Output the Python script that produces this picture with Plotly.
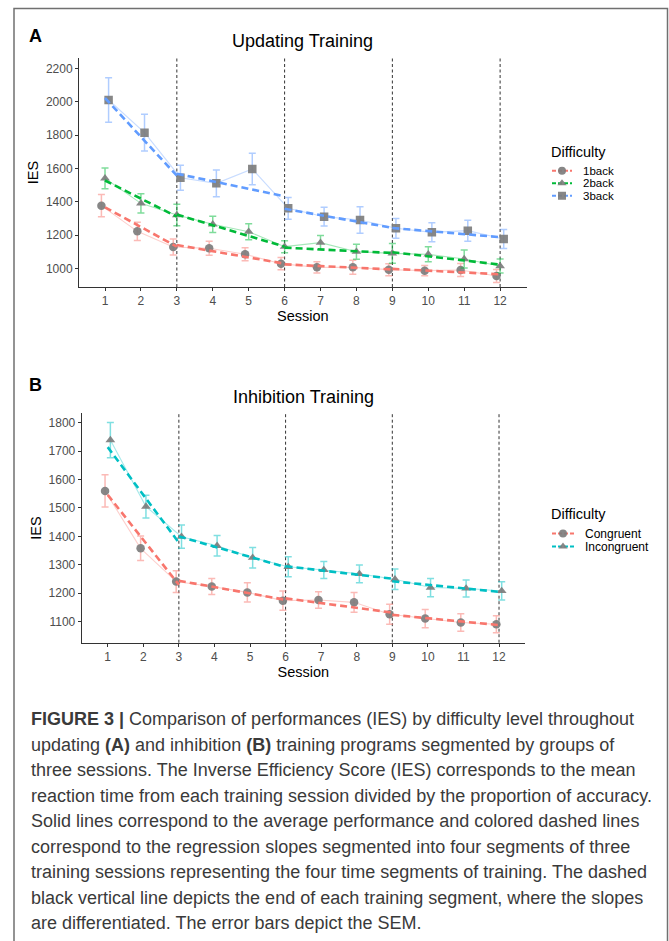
import plotly.graph_objects as go

W, H = 669, 941

# ---------------- data ----------------
sessions = list(range(1, 13))
segment_edges = [1, 3, 6, 9, 12]

# Panel A: Updating training
upd_names = ["1back", "2back", "3back"]
upd_1back = [1376, 1222, 1128, 1120, 1084, 1028, 1006, 1006, 992, 986, 990, 954]
upd_1back_sem = [67, 55, 48, 42, 39, 37, 34, 42, 36, 31, 39, 39]
upd_2back = [1540, 1390, 1320, 1264, 1220, 1130, 1154, 1100, 1090, 1084, 1056, 1014]
upd_2back_sem = [62, 58, 65, 49, 48, 36, 43, 45, 59, 45, 54, 42]
upd_3back = [2010, 1814, 1544, 1510, 1596, 1360, 1310, 1290, 1240, 1216, 1226, 1176]
upd_3back_sem = [134, 110, 75, 80, 94, 65, 56, 80, 59, 57, 63, 57]
# regression slope (start, end) per segment
upd_1back_fit = [(1366, 1130), (1140, 1028), (1024, 993), (997, 964)]
upd_2back_fit = [(1527, 1310), (1323, 1130), (1124, 1092), (1097, 1022)]
upd_3back_fit = [(2022, 1556), (1568, 1432), (1357, 1243), (1242, 1187)]
upd_yticks = [1000, 1200, 1400, 1600, 1800, 2000, 2200]

# Panel B: Inhibition training
inh_names = ["Congruent", "Incongruent"]
inh_congruent = [1560, 1358, 1241, 1224, 1203, 1174, 1176, 1168, 1126, 1111, 1097, 1091]
inh_congruent_sem = [57, 43, 38, 28, 34, 34, 29, 35, 35, 32, 31, 30]
inh_incongruent = [1739, 1505, 1399, 1367, 1325, 1293, 1282, 1268, 1249, 1220, 1217, 1208]
inh_incongruent_sem = [62, 40, 41, 36, 36, 35, 30, 31, 36, 32, 30, 32]
inh_congruent_fit = [(1546, 1230), (1244, 1177), (1182, 1132), (1124, 1088)]
inh_incongruent_fit = [(1714, 1378), (1400, 1292), (1295, 1251), (1242, 1205)]
inh_yticks = [1100, 1200, 1300, 1400, 1500, 1600, 1700, 1800]

caption_lines = [
    "<b>FIGURE 3 |</b> Comparison of performances (IES) by difficulty level throughout",
    "updating <b>(A)</b> and inhibition <b>(B)</b> training programs segmented by groups of",
    "three sessions. The Inverse Efficiency Score (IES) corresponds to the mean",
    "reaction time from each training session divided by the proportion of accuracy.",
    "Solid lines correspond to the average performance and colored dashed lines",
    "correspond to the regression slopes segmented into four segments of three",
    "training sessions representing the four time segments of training. The dashed",
    "black vertical line depicts the end of each training segment, where the slopes",
    "are differentiated. The error bars depict the SEM.",
]

# ---------------- styles ----------------
FONT = "Liberation Sans, Arial, sans-serif"
COLORS_A = ["#F8766D", "#00BA38", "#619CFF"]
COLORS_B = ["#F8766D", "#00BFC4"]
SYMBOLS_A = ["circle", "triangle-up", "square"]
SYMBOLS_B = ["circle", "triangle-up"]
DODGE_A = [-0.1, 0.0, 0.1]
DODGE_B = [-0.075, 0.075]
MARKER_GRAY = "rgba(125,125,125,0.92)"


def rgba(hexc, a):
    h = hexc.lstrip("#")
    return "rgba(%d,%d,%d,%s)" % (int(h[0:2], 16), int(h[2:4], 16), int(h[4:6], 16), a)


def px_x(p):
    return p / W


def px_y(p):
    return 1 - p / H


fig = go.Figure()


def add_panel(series, sems, fits, colors, symbols, dodges, xa, ya):
    for vals, sem, col, sym, dx in zip(series, sems, colors, symbols, dodges):
        xs = [s + dx for s in sessions]
        # average performance line (thin solid)
        fig.add_trace(go.Scatter(x=xs, y=vals, mode="lines", xaxis=xa, yaxis=ya,
                                 line=dict(color=rgba(col, 0.35), width=1.1),
                                 showlegend=False, hoverinfo="skip"))
        # error bars (SEM)
        fig.add_trace(go.Scatter(x=xs, y=vals, mode="markers", xaxis=xa, yaxis=ya,
                                 marker=dict(size=0.1, color="rgba(0,0,0,0)"),
                                 error_y=dict(type="data", array=sem, visible=True,
                                              color=rgba(col, 0.5), thickness=1.5, width=3.5),
                                 showlegend=False, hoverinfo="skip"))
        # points
        fig.add_trace(go.Scatter(x=xs, y=vals, mode="markers", xaxis=xa, yaxis=ya,
                                 marker=dict(symbol=sym, size=8.5, color=MARKER_GRAY, line=dict(width=0)),
                                 showlegend=False))
    # segmented regression slopes (dashed)
    for fit, col in zip(fits, colors):
        rx, ry = [], []
        for i, (a, b) in enumerate(fit):
            rx += [segment_edges[i], segment_edges[i + 1], None]
            ry += [a, b, None]
        fig.add_trace(go.Scatter(x=rx, y=ry, mode="lines", xaxis=xa, yaxis=ya,
                                 line=dict(color=col, width=2.6, dash="7px,4px"),
                                 showlegend=False, hoverinfo="skip"))


add_panel([upd_1back, upd_2back, upd_3back],
          [upd_1back_sem, upd_2back_sem, upd_3back_sem],
          [upd_1back_fit, upd_2back_fit, upd_3back_fit],
          COLORS_A, SYMBOLS_A, DODGE_A, "x", "y")
add_panel([inh_congruent, inh_incongruent],
          [inh_congruent_sem, inh_incongruent_sem],
          [inh_congruent_fit, inh_incongruent_fit],
          COLORS_B, SYMBOLS_B, DODGE_B, "x2", "y2")


# compact legends (ggplot-style key glyphs)
def add_legend(names, colors, symbols, xa, ya):
    for n, c, s in zip(names, colors, symbols):
        fig.add_trace(go.Scatter(x=[0, 1], y=[n, n], mode="lines", xaxis=xa, yaxis=ya,
                                 line=dict(color=c, width=2, dash="4px,2px"),
                                 showlegend=False, hoverinfo="skip"))
        fig.add_trace(go.Scatter(x=[0.5], y=[n], mode="markers", xaxis=xa, yaxis=ya,
                                 marker=dict(symbol=s, size=8, color=MARKER_GRAY),
                                 showlegend=False, hoverinfo="skip"))


add_legend(upd_names, COLORS_A, SYMBOLS_A, "x3", "y3")
add_legend(inh_names, COLORS_B, SYMBOLS_B, "x4", "y4")

axis_common = dict(showgrid=False, zeroline=False, showline=True, linecolor="#333333",
                   linewidth=1, ticks="outside", ticklen=3, tickcolor="#333333",
                   tickfont=dict(family=FONT, size=12, color="#4D4D4D"))
title_font = dict(family=FONT, size=14.5, color="#000000")

fig.update_layout(
    width=W, height=H, margin=dict(l=0, r=0, t=0, b=0),
    paper_bgcolor="white", plot_bgcolor="white", showlegend=False,
    font=dict(family=FONT),
    xaxis=dict(domain=[px_x(79), px_x(526.7)], range=[0.276, 12.74], anchor="y",
               tickvals=sessions, ticktext=[str(s) for s in sessions],
               title=dict(text="Session", font=title_font, standoff=2), **axis_common),
    yaxis=dict(domain=[px_y(287), px_y(58)], range=[888, 2262], anchor="x",
               tickvals=upd_yticks,
               title=dict(text="IES", font=title_font, standoff=3), **axis_common),
    xaxis2=dict(domain=[px_x(81.7), px_x(525)], range=[0.269, 12.73], anchor="y2",
                tickvals=sessions, ticktext=[str(s) for s in sessions],
                title=dict(text="Session", font=title_font, standoff=2), **axis_common),
    yaxis2=dict(domain=[px_y(642.7), px_y(413.3)], range=[1026, 1833], anchor="x2",
                tickvals=inh_yticks,
                title=dict(text="IES", font=title_font, standoff=3), **axis_common),
    xaxis3=dict(domain=[px_x(552), px_x(572)], range=[0, 1], visible=False, anchor="y3"),
    yaxis3=dict(domain=[px_y(202.0), px_y(164.5)], range=[2.5, -0.5], visible=False,
                type="category", categoryarray=upd_names, anchor="x3"),
    xaxis4=dict(domain=[px_x(552), px_x(574)], range=[0, 1], visible=False, anchor="y4"),
    yaxis4=dict(domain=[px_y(553), px_y(527)], range=[1.5, -0.5], visible=False,
                type="category", categoryarray=inh_names, anchor="x4"),
)

# vertical dashed segment boundaries
for xref, yref in (("x", "y domain"), ("x2", "y2 domain")):
    for e in segment_edges[1:]:
        fig.add_shape(type="line", xref=xref, yref=yref, x0=e, x1=e, y0=0, y1=1,
                      line=dict(color="#333333", width=1, dash="3px,2.5px"), layer="below")

# frame around the figure
fig.add_shape(type="rect", xref="paper", yref="paper", x0=px_x(14), x1=px_x(667.5),
              y0=-0.05, y1=px_y(8.5), line=dict(color="#707070", width=1.5))

ann = []
ann.append(dict(text="<b>A</b>", x=px_x(27), y=px_y(36), xanchor="left", yanchor="middle",
                font=dict(family=FONT, size=18, color="black")))
ann.append(dict(text="<b>B</b>", x=px_x(27), y=px_y(385), xanchor="left", yanchor="middle",
                font=dict(family=FONT, size=18, color="black")))
ann.append(dict(text="Updating Training", x=px_x(302.5), y=px_y(41), xanchor="center", yanchor="middle",
                font=dict(family=FONT, size=18, color="black")))
ann.append(dict(text="Inhibition Training", x=px_x(303), y=px_y(396.5), xanchor="center", yanchor="middle",
                font=dict(family=FONT, size=18, color="black")))
ann.append(dict(text="Difficulty", x=px_x(549), y=px_y(151.5), xanchor="left", yanchor="middle",
                font=dict(family=FONT, size=14.5, color="black")))
ann.append(dict(text="Difficulty", x=px_x(549), y=px_y(514), xanchor="left", yanchor="middle",
                font=dict(family=FONT, size=14.5, color="black")))
for n in upd_names:
    ann.append(dict(text=n, x=px_x(582), xref="paper", y=n, yref="y3", xanchor="left",
                    yanchor="middle", borderpad=0, font=dict(family=FONT, size=11.5, color="black")))
for n in inh_names:
    ann.append(dict(text=n, x=px_x(584), xref="paper", y=n, yref="y4", xanchor="left",
                    yanchor="middle", borderpad=0, font=dict(family=FONT, size=12, color="black")))
for i, line in enumerate(caption_lines):
    ann.append(dict(text=line, x=px_x(29), y=px_y(719 + i * 25.5), xanchor="left", yanchor="middle",
                    font=dict(family=FONT, size=18, color="#3a3a3a")))
for a in ann:
    a.setdefault("xref", "paper")
    a.setdefault("yref", "paper")
    a["showarrow"] = False
    fig.add_annotation(**a)

# remove the default page margin so the 669x941 figure fills the window exactly
fig.write_html("out.html", config={"displayModeBar": False},
               post_script="document.body.style.margin='0px';document.body.style.overflow='hidden';")
